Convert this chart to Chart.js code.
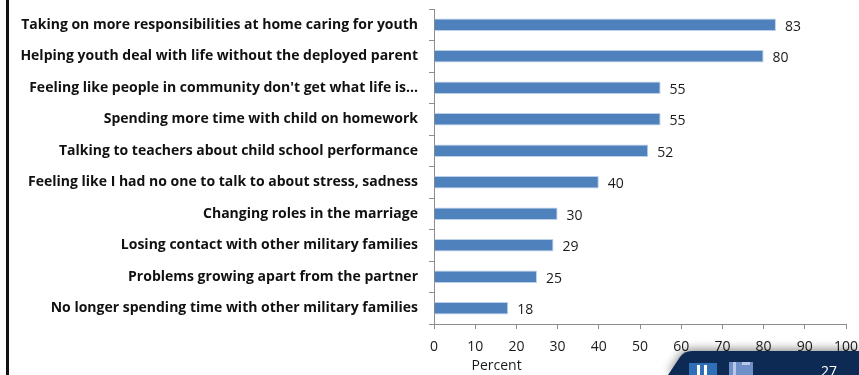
<!DOCTYPE html>
<html>
<head>
<meta charset="utf-8">
<script src="https://cdn.jsdelivr.net/npm/chart.js@4"></script>
<style>
  html, body { margin: 0; padding: 0; background: #fff; }
  #wrap { position: relative; width: 859px; height: 375px; }
  #leftRule { position: absolute; left: 6px; top: 0; width: 3px; height: 375px; background: #111; }
</style>
</head>
<body>
<div id="wrap">
  <div id="leftRule"></div>
  <canvas id="myChart" width="859" height="375"></canvas>
</div>
<script>
const categories = [
  'Taking on more responsibilities at home caring for youth',
  'Helping youth deal with life without the deployed parent',
  "Feeling like people in community don't get what life is...",
  'Spending more time with child on homework',
  'Talking to teachers about child school performance',
  'Feeling like I had no one to talk to about stress, sadness',
  'Changing roles in the marriage',
  'Losing contact with other military families',
  'Problems growing apart from the partner',
  'No longer spending time with other military families'
];
const percentValues = [83, 80, 55, 55, 52, 40, 30, 29, 25, 18];
const xTicks = [0, 10, 20, 30, 40, 50, 60, 70, 80, 90, 100];
const xTitle = 'Percent';
const pageNumber = '27';

// numbers printed at the end of each bar
const valueLabels = {
  id: 'valueLabels',
  afterDatasetsDraw(chart) {
    const ctx = chart.ctx;
    const meta = chart.getDatasetMeta(0);
    ctx.save();
    ctx.font = '14px "Open Sans", sans-serif';
    ctx.fillStyle = '#1a1a1a';
    ctx.textAlign = 'left';
    ctx.textBaseline = 'middle';
    meta.data.forEach((bar, i) => {
      ctx.fillText(String(percentValues[i]), bar.x + 9, bar.y + 2);
    });
    ctx.restore();
  }
};

// axis title sits under the 10-20 ticks, plus the slide footer badge
const extras = {
  id: 'extras',
  afterDraw(chart) {
    const ctx = chart.ctx;
    const x = chart.scales.x;
    ctx.save();
    ctx.font = '14px "Open Sans", sans-serif';
    ctx.fillStyle = '#1a1a1a';
    ctx.textAlign = 'center';
    ctx.textBaseline = 'middle';
    ctx.fillText(xTitle, x.getPixelForValue(15.2), 366);

    // footer badge
    ctx.shadowColor = 'rgba(0,0,0,0.45)';
    ctx.shadowBlur = 10;
    ctx.shadowOffsetY = -2;
    ctx.fillStyle = '#0d2a55';
    ctx.beginPath();
    ctx.moveTo(668, 375);
    ctx.lineTo(680, 357);
    ctx.quadraticCurveTo(684, 351, 692, 351);
    ctx.lineTo(859, 351);
    ctx.lineTo(859, 375);
    ctx.closePath();
    ctx.fill();
    ctx.shadowColor = 'transparent';
    ctx.fillStyle = '#2f6fb8';
    ctx.fillRect(689, 363, 28, 12);
    ctx.fillStyle = '#ffffff';
    ctx.fillRect(697, 365, 3, 10);
    ctx.fillRect(704, 365, 3, 10);
    ctx.fillStyle = '#6f8fc8';
    ctx.fillRect(729, 362, 24, 13);
    ctx.fillStyle = '#b8c8e8';
    ctx.fillRect(733, 362, 3, 13);
    ctx.fillRect(742, 362, 8, 3);
    ctx.fillStyle = '#ffffff';
    ctx.font = '14px "Open Sans", sans-serif';
    ctx.fillText(pageNumber, 829, 372);
    ctx.restore();
  }
};

const ctx = document.getElementById('myChart').getContext('2d');
new Chart(ctx, {
  type: 'bar',
  data: {
    labels: categories,
    datasets: [{
      data: percentValues,
      backgroundColor: '#4f81bd',
      borderColor: '#bcd0ea',
      borderWidth: 1,
      categoryPercentage: 1,
      barPercentage: 0.4
    }]
  },
  options: {
    indexAxis: 'y',
    responsive: false,
    animation: false,
    layout: { padding: { top: 9, right: 13, left: 0, bottom: 0 } },
    plugins: {
      legend: { display: false },
      tooltip: { enabled: false }
    },
    scales: {
      x: {
        min: 0,
        max: 100,
        afterBuildTicks(scale) {
          scale.ticks = xTicks.map(v => ({ value: v }));
        },
        afterFit(scale) {
          scale.height = 51;
          scale.paddingLeft = 0;
          scale.paddingRight = 0;
        },
        border: { color: '#8c8c8c', width: 1 },
        grid: {
          drawOnChartArea: false,
          drawTicks: true,
          tickLength: 5,
          color: '#8c8c8c'
        },
        ticks: {
          maxRotation: 0,
          padding: 10,
          color: '#1a1a1a',
          font: { family: '"Open Sans", sans-serif', size: 14 }
        }
      },
      y: {
        afterFit(scale) {
          scale.width = 434;
          scale.paddingTop = 0;
          scale.paddingBottom = 0;
        },
        border: { color: '#8c8c8c', width: 1 },
        grid: {
          offset: true,
          drawOnChartArea: false,
          drawTicks: true,
          tickLength: 5,
          color: '#8c8c8c'
        },
        ticks: {
          padding: 11,
          color: '#111',
          font: { family: '"Open Sans", sans-serif', size: 14, weight: 'bold' }
        }
      }
    }
  },
  plugins: [valueLabels, extras]
});
</script>
</body>
</html>
